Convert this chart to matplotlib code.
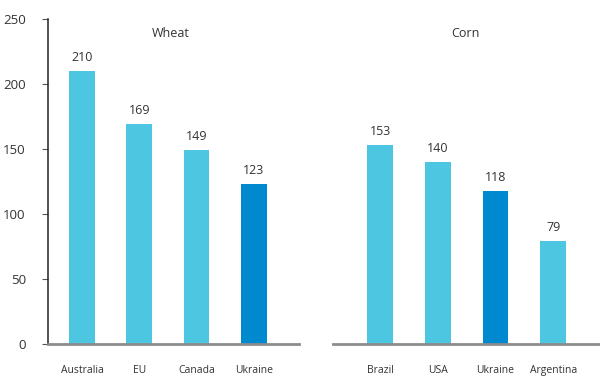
import matplotlib.pyplot as plt

plt.rcParams['font.family'] = ['Open Sans', 'DejaVu Sans']

# export prices, $/t
wheat_countries = ['Australia', 'EU', 'Canada', 'Ukraine']
wheat_prices = [210, 169, 149, 123]
corn_countries = ['Brazil', 'USA', 'Ukraine', 'Argentina']
corn_prices = [153, 140, 118, 79]

light = '#4cc6e1'
dark = '#0089cf'
text_c = '#333333'

fig = plt.figure(figsize=(6, 3.76), dpi=100)
ax1 = fig.add_axes([48 / 600, 32 / 376, 251 / 600, 325 / 376])
ax2 = fig.add_axes([333 / 600, 32 / 376, 267 / 600, 325 / 376])


def draw(ax, names, vals, title, xlim, title_x):
    cols = [dark if n == 'Ukraine' else light for n in names]
    x = range(len(vals))
    bars = ax.bar(x, vals, width=0.45, color=cols, zorder=2)
    for b, v in zip(bars, vals):
        ax.annotate(str(v), (b.get_x() + b.get_width() / 2, v),
                    xytext=(0, 5), textcoords='offset points',
                    ha='center', va='bottom', fontsize=9, color=text_c)
    ax.set_xlim(*xlim)
    ax.set_ylim(0, 250)
    ax.set_xticks(list(x))
    ax.set_xticklabels(names, fontsize=7.5, color=text_c)
    ax.tick_params(axis='x', length=0, pad=15)
    for s in ['top', 'right']:
        ax.spines[s].set_visible(False)
    ax.spines['bottom'].set_color('#8c8c8c')
    ax.spines['bottom'].set_linewidth(2)
    ax.text(title_x, 0.955, title, transform=ax.transAxes, ha='center',
            va='center', fontsize=9, color=text_c)


draw(ax1, wheat_countries, wheat_prices, 'Wheat', (-0.593, 3.79), 0.49)
draw(ax2, corn_countries, corn_prices, 'Corn', (-0.815, 3.81), 0.495)

ax1.set_yticks([0, 50, 100, 150, 200, 250])
ax1.tick_params(axis='y', labelsize=9.5, labelcolor=text_c, length=4,
                color='#555555', pad=12)
ax1.spines['left'].set_color('#222222')
ax1.spines['left'].set_linewidth(1.1)

ax2.spines['left'].set_visible(False)
ax2.set_yticks([])

fig.savefig('out.png', dpi=100, facecolor='white')
